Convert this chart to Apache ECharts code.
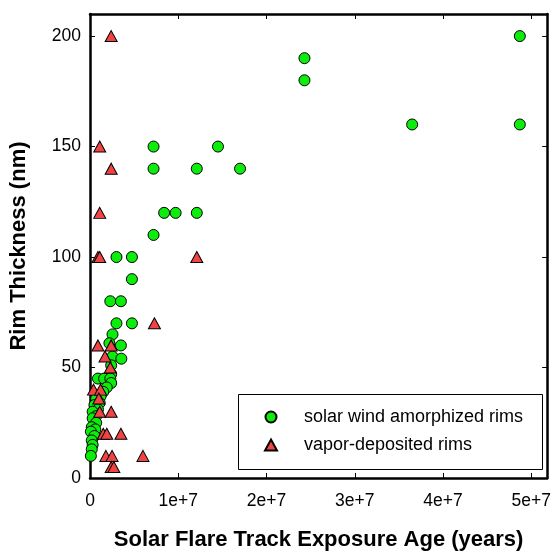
<!DOCTYPE html>
<html>
<head>
<meta charset="utf-8">
<script src="https://cdn.jsdelivr.net/npm/echarts@6/dist/echarts.min.js"></script>
<style>
html,body{margin:0;padding:0;background:#fff;}
#c{width:554px;height:556px;}
</style>
</head>
<body>
<div id="c"></div>
<script>
// Solar wind amorphized rims (exposure age in years, rim thickness in nm)
var solarWindX = [4.87e7,2.43e7,2.43e7,3.65e7,4.87e7,0.72e7,1.45e7,0.72e7,1.21e7,1.70e7,0.84e7,0.97e7,1.21e7,0.72e7,
  0.30e7,0.475e7,0.475e7,0.23e7,0.35e7,0.30e7,0.475e7,0.255e7,0.35e7,0.22e7,0.255e7,0.355e7,0.24e7,
  0.24e7,0.09e7,0.16e7,0.23e7,0.24e7,0.19e7,0.15e7,0.12e7,0.07e7,0.11e7,0.05e7,0.09e7,0.03e7,0.07e7,0.03e7,0.07e7,0.02e7,0.06e7,0.01e7,0.05e7,0.02e7,0.03e7,0.02e7,0.01e7];
var solarWindY = [200,190,180,160,160,150,150,140,140,140,120,120,120,110,
  100,100,90,80,80,70,70,65,60,61,55,54,51,
  47,45,45,45,43,41,39,37,36,34,33,31,30,28,27,25,23,22,21,19,17,15,13,10];
// Vapor-deposited rims
var vaporX = [0.24e7,0.11e7,0.24e7,0.11e7,0.09e7,0.11e7,1.21e7,0.73e7,0.09e7,0.24e7,0.17e7,0.23e7,0.04e7,0.12e7,0.10e7,0.11e7,0.24e7,0.15e7,0.19e7,0.35e7,0.18e7,0.25e7,0.60e7,0.24e7,0.27e7];
var vaporY = [200,150,140,120,100,100,100,70,60,60,55,50,40,40,36,30,30,20,20,20,10,10,10,5,5];
var xTickValues = [0,1e7,2e7,3e7,4e7,5e7];
var xTickLabels = ['0','1e+7','2e+7','3e+7','4e+7','5e+7'];
var yTickValues = [0,50,100,150,200];
var yTickLabels = ['0','50','100','150','200'];
var seriesNames = ['solar wind amorphized rims','vapor-deposited rims'];

function pairs(xs, ys){ var o=[]; for(var i=0;i<xs.length;i++) o.push([xs[i],ys[i]]); return o; }
var FONT = "'Liberation Sans', Arial, sans-serif";
var chart = echarts.init(document.getElementById('c'), null, {renderer:'canvas'});
var xMax = 5.18e7, yMax = 210;
function xAx(pos, showLabel){
  return {
    type:'value', position:pos, min:0, max:xMax, interval:1e7,
    axisLine:{show:true, onZero:false, lineStyle:{color:'#000', width:2.5}},
    axisTick:{show:true, inside:true, length:5, lineStyle:{color:'#000', width:1}, customValues:xTickValues},
    axisLabel:{show:showLabel, color:'#000', fontSize:17.5, fontFamily:FONT, margin:14, customValues:xTickValues,
      formatter:function(v){ var i=xTickValues.indexOf(v); return i<0?'':xTickLabels[i]; }},
    splitLine:{show:false},
    name: showLabel ? 'Solar Flare Track Exposure Age (years)' : '',
    nameLocation:'middle', nameGap:51,
    nameTextStyle:{color:'#000', fontSize:22, fontWeight:'bold', fontFamily:FONT}
  };
}
function yAx(pos, showLabel){
  return {
    type:'value', position:pos, min:0, max:yMax, interval:50,
    axisLine:{show:true, onZero:false, lineStyle:{color:'#000', width:2.5}},
    axisTick:{show:true, inside:true, length:5, lineStyle:{color:'#000', width:1}, customValues:yTickValues},
    axisLabel:{show:showLabel, color:'#000', fontSize:17.5, fontFamily:FONT, margin:9, customValues:yTickValues,
      formatter:function(v){ var i=yTickValues.indexOf(v); return i<0?'':yTickLabels[i]; }},
    splitLine:{show:false},
    name: showLabel ? 'Rim Thickness (nm)' : '',
    nameLocation:'middle', nameGap:60,
    nameTextStyle:{color:'#000', fontSize:22, fontWeight:'bold', fontFamily:FONT}
  };
}
chart.setOption({
  backgroundColor:'#fff',
  animation:false,
  grid:{left:90, right:3, top:14, bottom:73, containLabel:false},
  xAxis:[xAx('bottom', true), xAx('top', false)],
  yAxis:[yAx('left', true), yAx('right', false)],
  legend:{
    orient:'vertical', left:264, top:408, itemGap:10, itemWidth:12, itemHeight:11, padding:0,
    textStyle:{color:'#000', fontSize:18, lineHeight:18, fontFamily:FONT, padding:[0,0,0,22]},
    data:seriesNames
  },
  graphic:[{type:'rect', left:236, top:392, shape:{width:304, height:75}, style:{fill:'none', stroke:'#000', lineWidth:1}, z:1}],
  series:[
    {name:seriesNames[0], type:'scatter', xAxisIndex:0, yAxisIndex:0, symbol:'circle', symbolSize:11,
      itemStyle:{color:'#0ced0c', borderColor:'#000', borderWidth:1, opacity:1},
      data:pairs(solarWindX, solarWindY), z:2},
    {name:seriesNames[1], type:'scatter', xAxisIndex:0, yAxisIndex:0, symbol:'triangle', symbolSize:[12,11],
      itemStyle:{color:'#f04444', borderColor:'#000', borderWidth:1, opacity:1},
      data:pairs(vaporX, vaporY), z:3}
  ]
});
</script>
</body>
</html>
